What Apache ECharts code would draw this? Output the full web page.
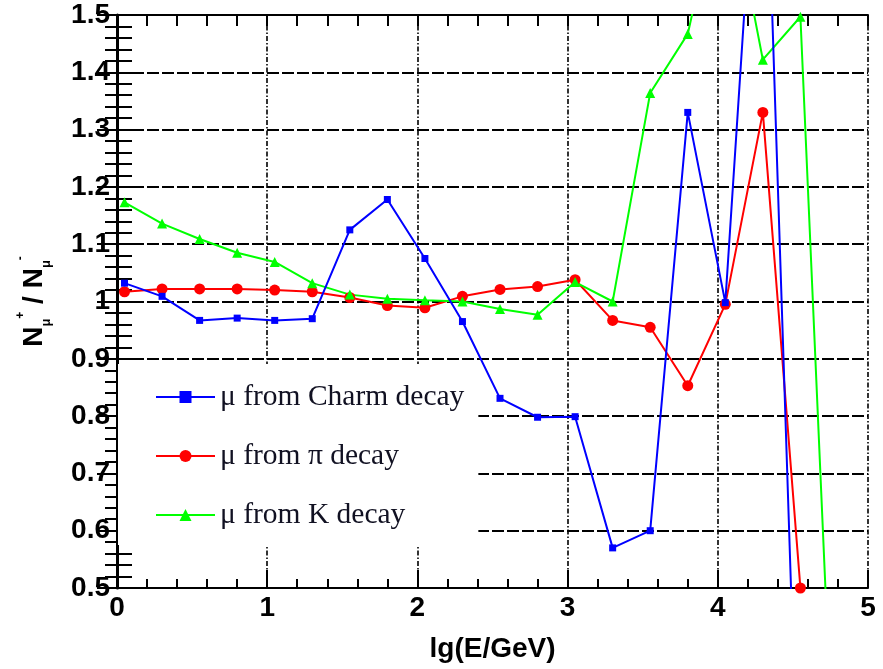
<!DOCTYPE html>
<html>
<head>
<meta charset="utf-8">
<script src="https://cdn.jsdelivr.net/npm/echarts@6/dist/echarts.min.js"></script>
<style>html,body{margin:0;padding:0;background:#fff}#c{width:883px;height:669px}</style>
</head>
<body>
<div id="c"></div>
<script>
// lg(E/GeV) bin centres
const xValues = [0.05,0.3,0.55,0.8,1.05,1.3,1.55,1.8,2.05,2.3,2.55,2.8,3.05,3.3,3.55,3.8,4.05,4.3,4.55,4.8];
// N(mu+)/N(mu-) ratios
const charmValues = [1.032,1.009,0.967,0.971,0.967,0.970,1.125,1.178,1.075,0.965,0.831,0.798,0.799,0.570,0.600,1.330,0.998,2.0,0.0];
const piValues    = [1.017,1.022,1.022,1.022,1.020,1.017,1.007,0.993,0.989,1.009,1.021,1.026,1.038,0.967,0.955,0.853,0.995,1.330,0.500];
const kValues     = [1.173,1.136,1.109,1.085,1.069,1.032,1.012,1.005,1.002,1.000,0.987,0.977,1.034,1.000,1.364,1.467,1.76,1.422,1.497,0.0];
const seriesNames = ['μ from Charm decay','μ from π decay','μ from K decay'];
const xTicks = [0,1,2,3,4,5];
const yTicks = [0.5,0.6,0.7,0.8,0.9,1,1.1,1.2,1.3,1.4,1.5];

const pair = arr => arr.map((v,i)=>[xValues[i], v]);
const labelFont = {fontFamily:'Liberation Sans, Arial, sans-serif', fontWeight:'bold', fontSize:28, color:'#000'};

const chart = echarts.init(document.getElementById('c'), null, {renderer:'canvas'});
chart.setOption({
  animation:false,
  backgroundColor:'#fff',
  grid:{left:117, right:15, top:15, bottom:81, containLabel:false},
  legend:{
    orient:'vertical', left:118, top:364,
    padding:[18,14,15,37], backgroundColor:'#fff',
    itemWidth:59, itemHeight:15, itemGap:29,
    textStyle:{fontFamily:'Liberation Serif, Times New Roman, serif', fontSize:29.5, color:'#111122', lineHeight:30},
    data:seriesNames
  },
  xAxis:[{
    type:'value', min:xTicks[0], max:xTicks[xTicks.length-1], interval:1,
    name:'lg(E/GeV)', nameLocation:'middle', nameGap:47,
    nameTextStyle:labelFont,
    axisLine:{lineStyle:{color:'#000', width:2}},
    axisTick:{inside:true, length:18, lineStyle:{color:'#000', width:2}},
    minorTick:{show:true, splitNumber:5, length:9, lineStyle:{color:'#000', width:2}},
    axisLabel:Object.assign({margin:6, showMinLabel:true, showMaxLabel:true}, labelFont),
    splitLine:{show:true, lineStyle:{color:'#000', width:1.6, type:[5,2,1.5,2]}}
  },{
    type:'value', position:'top', min:xTicks[0], max:xTicks[xTicks.length-1], interval:1,
    axisLine:{lineStyle:{color:'#000', width:2}},
    axisTick:{inside:true, length:11, lineStyle:{color:'#000', width:2}},
    minorTick:{show:true, splitNumber:5, length:11, lineStyle:{color:'#000', width:2}},
    axisLabel:{show:false}, splitLine:{show:false}
  }],
  yAxis:[{
    type:'value', min:yTicks[0], max:yTicks[yTicks.length-1], interval:0.1,
    name:'{n|N}{s|μ}{p|+}{n| / N}{s|μ}{p|-}', nameLocation:'middle', nameRotate:90, nameGap:64,
    nameTextStyle:{
      rich:{
        n:{fontFamily:'Liberation Sans, Arial', fontWeight:'bold', fontSize:28, color:'#000', lineHeight:38},
        s:{fontFamily:'Liberation Sans, Arial', fontWeight:'bold', fontSize:13, color:'#000', lineHeight:15, verticalAlign:'bottom'},
        p:{fontFamily:'Liberation Sans, Arial', fontWeight:'bold', fontSize:12, color:'#000', lineHeight:22, verticalAlign:'top'}
      }
    },
    axisLine:{lineStyle:{color:'#000', width:2}},
    axisTick:{inside:true, length:25, lineStyle:{color:'#000', width:2}},
    minorTick:{show:true, splitNumber:5, length:15, lineStyle:{color:'#000', width:2}},
    axisLabel:Object.assign({margin:7, showMinLabel:true, showMaxLabel:true, formatter:v=>String(Math.round(v*10)/10)}, labelFont),
    splitLine:{show:true, lineStyle:{color:'#000', width:2, type:[12,3]}}
  },{
    type:'value', position:'right', min:yTicks[0], max:yTicks[yTicks.length-1], interval:0.1,
    axisLine:{lineStyle:{color:'#000', width:3}},
    axisTick:{inside:true, length:20, lineStyle:{color:'#000', width:2}},
    minorTick:{show:true, splitNumber:5, length:12, lineStyle:{color:'#000', width:2}},
    axisLabel:{show:false}, splitLine:{show:false}
  }],
  series:[
    {name:seriesNames[0], type:'line', data:pair(charmValues), symbol:'rect', symbolSize:7,
     itemStyle:{color:'#0000ff'}, lineStyle:{color:'#0000ff', width:2}, clip:true, z:3},
    {name:seriesNames[1], type:'line', data:pair(piValues), symbol:'circle', symbolSize:11,
     itemStyle:{color:'#ff0000'}, lineStyle:{color:'#ff0000', width:2}, clip:true, z:2},
    {name:seriesNames[2], type:'line', data:pair(kValues), symbol:'triangle', symbolSize:10,
     itemStyle:{color:'#00ff00'}, lineStyle:{color:'#00ff00', width:2}, clip:true, z:2}
  ]
});
</script>
</body>
</html>
